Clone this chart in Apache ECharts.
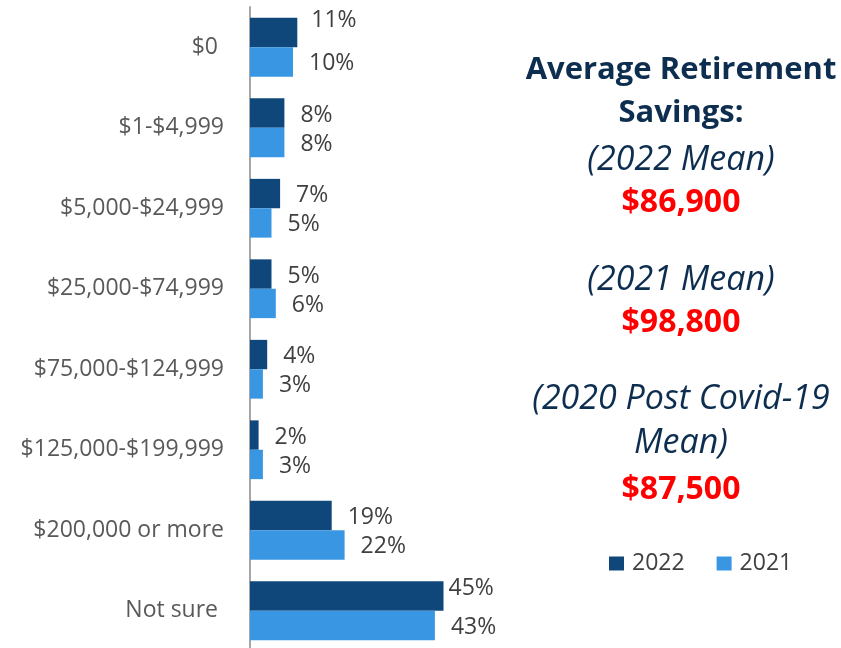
<!DOCTYPE html>
<html>
<head>
<meta charset="utf-8">
<script src="https://cdn.jsdelivr.net/npm/echarts@6/dist/echarts.min.js"></script>
<style>
  html, body { margin: 0; padding: 0; background: #fff; }
  #container { width: 841px; height: 648px; }
</style>
</head>
<body>
<div id="container"></div>
<script>
(function () {

    // categories top to bottom
    const categories = ['$0 ', '$1-$4,999', '$5,000-$24,999', '$25,000-$74,999',
        '$75,000-$124,999', '$125,000-$199,999', '$200,000 or more', 'Not sure '];
    const values2022 = [11, 8, 7, 5, 4, 2, 19, 45];
    const values2021 = [10, 8, 5, 6, 3, 3, 22, 43];

    const sideLines = [
        { text: 'Average Retirement', kind: 'head', y: 70 },
        { text: 'Savings:', kind: 'head', y: 113 },
        { text: '(2022 Mean)', kind: 'sub', y: 160 },
        { text: '$86,900', kind: 'money', y: 203 },
        { text: '(2021 Mean)', kind: 'sub', y: 280 },
        { text: '$98,800', kind: 'money', y: 323 },
        { text: '(2020 Post Covid-19', kind: 'sub', y: 399 },
        { text: 'Mean)', kind: 'sub', y: 443 },
        { text: '$87,500', kind: 'money', y: 490 }
    ];

    const fontFamily = '"Open Sans", sans-serif';
    const styles = {
        head: { font: 'bold 31px ' + fontFamily, fill: '#0E2E50' },
        sub: { font: 'italic 34px ' + fontFamily, fill: '#0E2E50' },
        money: { font: 'bold 32px ' + fontFamily, fill: '#FF0000' }
    };

    const graphics = sideLines.map(line => ({
        type: 'text',
        x: 681,
        y: line.y,
        style: {
            text: line.text,
            font: styles[line.kind].font,
            fill: styles[line.kind].fill,
            align: 'center',
            verticalAlign: 'middle'
        }
    }));

    const labelStyle = {
        show: true,
        position: 'right',
        distance: 16,
        offset: [0, 2],
        formatter: '{c}%',
        fontSize: 23,
        fontFamily: fontFamily,
        color: '#404040'
    };

    // a couple of labels sit off their usual place in the original
    const withLabelShift = (values, shifts) => values.map((v, i) => shifts[i]
        ? { value: v, label: { offset: shifts[i] } }
        : v);

    var dom = document.getElementById('container');
    var myChart = echarts.init(dom, null, { renderer: 'canvas' });

    myChart.setOption({
        animation: false,
        grid: { left: 250, top: 7, width: 215, height: 644, outerBoundsMode: 'none' },
        legend: {
            data: ['2022', '2021'],
            left: 604,
            top: 547,
            itemWidth: 15,
            itemHeight: 14,
            itemGap: 32,
            icon: 'rect',
            textStyle: { fontSize: 23, fontFamily: fontFamily, color: '#404040', padding: [0, 0, 0, 3] }
        },
        xAxis: {
            type: 'value',
            min: 0,
            max: 50,
            show: false
        },
        yAxis: {
            type: 'category',
            inverse: true,
            data: categories,
            axisLine: { lineStyle: { color: '#A6A6A6', width: 2 } },
            axisTick: { show: false },
            axisLabel: { fontSize: 23, fontFamily: fontFamily, color: '#595959', margin: 26 }
        },
        series: [
            {
                name: '2022',
                type: 'bar',
                data: withLabelShift(values2022, { 0: [-2, -12], 7: [-11, -8] }),
                barGap: '0%',
                barCategoryGap: '27%',
                itemStyle: { color: '#0F477A' },
                label: labelStyle
            },
            {
                name: '2021',
                type: 'bar',
                data: values2021,
                itemStyle: { color: '#3896E3' },
                label: labelStyle
            }
        ],
        graphic: graphics
    });

})();
</script>
</body>
</html>
